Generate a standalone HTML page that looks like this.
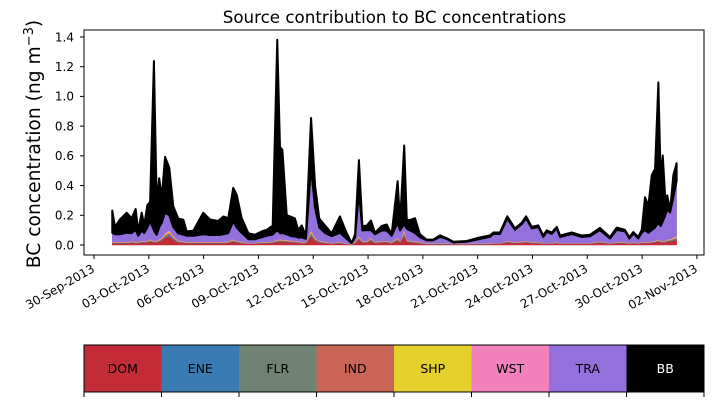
<!DOCTYPE html>
<html><head><meta charset="utf-8"><style>
body{margin:0;background:#fff;}
svg{display:block;font-family:"DejaVu Sans","Liberation Sans",sans-serif;}
</style></head><body>
<svg id="chart" width="714" height="402" viewBox="0 0 714 402">
<text x="394.5" y="23" text-anchor="middle" font-size="16.7">Source contribution to BC concentrations</text>
<text transform="translate(40,144) rotate(-90)" text-anchor="middle" font-size="18.7">BC concentration (ng m<tspan baseline-shift="super" font-size="13">−3</tspan>)</text>
<g id="areas"></g>
<g id="yaxis"></g>
<g id="xaxis"></g>
<rect x="84" y="30" width="620" height="225" fill="none" stroke="#000" stroke-width="1"/>
<g id="legend"></g>
</svg>
<script>
// time in days since 30-Sep-2013 00:00
const times=[1.00,1.15,1.42,1.79,2.06,2.28,2.42,2.61,2.75,2.92,3.07,3.28,3.43,3.57,3.71,3.89,4.12,4.34,4.61,4.89,5.07,5.44,5.98,6.35,6.80,7.08,7.35,7.62,7.81,8.08,8.45,8.81,9.18,9.45,9.78,10.03,10.18,10.31,10.55,10.82,11.00,11.18,11.37,11.60,11.88,12.10,12.33,12.64,13.01,13.46,13.83,14.10,14.29,14.50,14.69,14.93,15.16,15.38,15.75,16.02,16.29,16.62,16.75,16.98,17.12,17.30,17.57,17.84,18.21,18.57,18.94,19.30,19.67,20.40,20.95,21.67,21.86,22.22,22.62,23.04,23.41,23.65,23.96,24.32,24.59,24.78,25.05,25.33,25.51,26.15,26.69,27.15,27.69,28.24,28.61,29.06,29.30,29.52,29.79,29.98,30.16,30.34,30.53,30.71,30.89,31.02,31.13,31.26,31.38,31.53,31.71,31.89];
const dom=[.012,.012,.012,.012,.015,.012,.012,.018,.015,.018,.024,.018,.018,.024,.03,.048,.06,.036,.018,.015,.012,.012,.012,.012,.012,.012,.015,.024,.018,.012,.009,.009,.012,.012,.015,.021,.024,.021,.021,.018,.018,.015,.012,.012,.06,.03,.018,.012,.009,.012,.006,.003,.012,.036,.018,.015,.03,.012,.018,.018,.012,.03,.018,.06,.024,.018,.015,.012,.006,.006,.007,.006,.005,.005,.006,.007,.009,.009,.018,.012,.015,.018,.012,.012,.009,.009,.009,.012,.009,.009,.009,.009,.015,.009,.012,.012,.009,.012,.009,.012,.012,.012,.015,.018,.024,.018,.018,.018,.024,.024,.03,.036];
const ene=[.002,.002,.002,.002,.002,.002,.002,.002,.002,.002,.003,.002,.002,.003,.004,.006,.008,.005,.002,.002,.002,.002,.002,.002,.002,.002,.002,.003,.002,.002,.001,.001,.002,.002,.002,.003,.003,.003,.003,.002,.002,.002,.002,.002,.008,.004,.002,.002,.001,.002,.001,.001,.002,.005,.002,.002,.004,.002,.002,.002,.002,.004,.002,.008,.003,.002,.002,.002,.001,.001,.001,.001,.001,.001,.001,.001,.001,.001,.002,.002,.002,.002,.002,.002,.001,.001,.001,.002,.001,.001,.001,.001,.002,.001,.002,.002,.001,.002,.001,.002,.002,.002,.002,.002,.003,.002,.002,.002,.003,.003,.004,.005];
const flr=[.002,.002,.002,.002,.002,.002,.002,.002,.002,.002,.003,.002,.002,.003,.004,.006,.008,.005,.002,.002,.002,.002,.002,.002,.002,.002,.002,.003,.002,.002,.001,.001,.002,.002,.002,.003,.003,.003,.003,.002,.002,.002,.002,.002,.008,.004,.002,.002,.001,.002,.001,.001,.002,.005,.002,.002,.004,.002,.002,.002,.002,.004,.002,.008,.003,.002,.002,.002,.001,.001,.001,.001,.001,.001,.001,.001,.001,.001,.002,.002,.002,.002,.002,.002,.001,.001,.001,.002,.001,.001,.001,.001,.002,.001,.002,.002,.001,.002,.001,.002,.002,.002,.002,.002,.003,.002,.002,.002,.003,.003,.004,.005];
const ind=[.002,.002,.002,.002,.002,.002,.002,.002,.002,.002,.003,.002,.002,.003,.004,.006,.008,.005,.002,.002,.002,.002,.002,.002,.002,.002,.002,.003,.002,.002,.001,.001,.002,.002,.002,.003,.003,.003,.003,.002,.002,.002,.002,.002,.008,.004,.002,.002,.001,.002,.001,.001,.002,.005,.002,.002,.004,.002,.002,.002,.002,.004,.002,.008,.003,.002,.002,.002,.001,.001,.001,.001,.001,.001,.001,.001,.001,.001,.002,.002,.002,.002,.002,.002,.001,.001,.001,.002,.001,.001,.001,.001,.002,.001,.002,.002,.001,.002,.001,.002,.002,.002,.002,.002,.003,.002,.002,.002,.003,.003,.004,.005];
const shp=[.002,.002,.002,.002,.002,.002,.002,.002,.002,.002,.003,.002,.002,.003,.004,.006,.008,.005,.002,.002,.002,.002,.002,.002,.002,.002,.002,.003,.002,.002,.001,.001,.002,.002,.002,.003,.003,.003,.003,.002,.002,.002,.002,.002,.008,.004,.002,.002,.001,.002,.001,.001,.002,.005,.002,.002,.004,.002,.002,.002,.002,.004,.002,.008,.003,.002,.002,.002,.001,.001,.001,.001,.001,.001,.001,.001,.001,.001,.002,.002,.002,.002,.002,.002,.001,.001,.001,.002,.001,.001,.001,.001,.002,.001,.002,.002,.001,.002,.001,.002,.002,.002,.002,.002,.003,.002,.002,.002,.003,.003,.004,.005];
const wst=[.002,.002,.002,.002,.002,.002,.002,.002,.002,.002,.003,.002,.002,.003,.004,.006,.008,.005,.002,.002,.002,.002,.002,.002,.002,.002,.002,.003,.002,.002,.001,.001,.002,.002,.002,.003,.003,.003,.003,.002,.002,.002,.002,.002,.008,.004,.002,.002,.001,.002,.001,.001,.002,.005,.002,.002,.004,.002,.002,.002,.002,.004,.002,.008,.003,.002,.002,.002,.001,.001,.001,.001,.001,.001,.001,.001,.001,.001,.002,.002,.002,.002,.002,.002,.001,.001,.001,.002,.001,.001,.001,.001,.002,.001,.002,.002,.001,.002,.001,.002,.002,.002,.002,.002,.003,.002,.002,.002,.003,.003,.004,.005];
const tra=[.06,.05,.05,.06,.055,.08,.04,.07,.055,.09,.12,.07,.04,.08,.10,.14,.10,.06,.05,.045,.04,.04,.05,.045,.045,.05,.055,.12,.09,.06,.025,.025,.03,.04,.045,.065,.04,.045,.035,.03,.03,.025,.03,.02,.42,.20,.09,.06,.045,.06,.03,.005,.03,.30,.07,.075,.05,.05,.07,.07,.04,.10,.07,.04,.07,.07,.055,.03,.02,.02,.043,.03,.007,.012,.025,.043,.06,.06,.15,.08,.115,.15,.09,.10,.04,.075,.06,.09,.04,.06,.04,.045,.075,.03,.08,.07,.03,.055,.03,.06,.08,.06,.075,.09,.11,.10,.13,.17,.20,.18,.27,.37];
const bb=[.15,.05,.10,.135,.10,.14,.03,.12,.055,.15,.13,1.14,.22,.33,.17,.375,.32,.14,.10,.10,.03,.035,.145,.105,.095,.12,.10,.225,.22,.10,.04,.03,.04,.04,.06,1.28,.58,.56,.13,.13,.12,.05,.08,.02,.335,.15,.06,.05,.02,.11,.04,0,.02,.21,.03,.03,.065,.01,.03,.04,.01,.28,.05,.53,.06,.07,.10,.02,.005,.005,.01,.005,.005,.005,.01,.01,.01,.01,.015,.01,.01,.015,.01,.01,.01,.01,.01,.01,.01,.01,.01,.01,.015,.01,.015,.01,.01,.01,.01,.02,.22,.18,.37,.395,.945,.30,.445,.13,.095,.01,.15,.12];
const seriesNames=["DOM","ENE","FLR","IND","SHP","WST","TRA","BB"];
const seriesColors=["#c42b38","#3a7bb3","#6f8273","#c96556","#e5d12e","#f381bd","#9370db","#000000"];
const yTicks=[0.0,0.2,0.4,0.6,0.8,1.0,1.2,1.4];
const xTickDays=[0,3,6,9,12,15,18,21,24,27,30,33];
const xTickLabels=["30-Sep-2013","03-Oct-2013","06-Oct-2013","09-Oct-2013","12-Oct-2013","15-Oct-2013","18-Oct-2013","21-Oct-2013","24-Oct-2013","27-Oct-2013","30-Oct-2013","02-Nov-2013"];

const NS="http://www.w3.org/2000/svg";
const X=d=>94+d*18.27;
const Y=v=>245-v*148.6;
const series=[dom,ene,flr,ind,shp,wst,tra,bb];
const areas=document.getElementById('areas');
let base=times.map(()=>0);
series.forEach((s,k)=>{
  const top=base.map((b,i)=>b+s[i]);
  let d="M"+times.map((t,i)=>X(t).toFixed(2)+","+Y(top[i]).toFixed(2)).join("L");
  for(let i=times.length-1;i>=0;i--) d+="L"+X(times[i]).toFixed(2)+","+Y(base[i]).toFixed(2);
  d+="Z";
  const p=document.createElementNS(NS,'path');
  p.setAttribute('d',d);p.setAttribute('fill',seriesColors[k]);
  p.setAttribute('stroke',seriesColors[k]);p.setAttribute('stroke-width',k==7?'2':'0.5');
  p.setAttribute('stroke-linejoin','round');
  
  
  areas.appendChild(p);
  base=top;
});
const ya=document.getElementById('yaxis');
yTicks.forEach(v=>{
  const l=document.createElementNS(NS,'line');
  l.setAttribute('x1',80);l.setAttribute('x2',84);l.setAttribute('y1',Y(v));l.setAttribute('y2',Y(v));l.setAttribute('stroke','#000');
  
  
  ya.appendChild(l);
  const t=document.createElementNS(NS,'text');
  t.setAttribute('x',74);t.setAttribute('y',Y(v)+4.3);t.setAttribute('text-anchor','end');t.setAttribute('font-size','12');
  t.textContent=v.toFixed(1);
  
  
  ya.appendChild(t);
});
const xa=document.getElementById('xaxis');
xTickDays.forEach((d,i)=>{
  const l=document.createElementNS(NS,'line');
  l.setAttribute('x1',X(d));l.setAttribute('x2',X(d));l.setAttribute('y1',255);l.setAttribute('y2',259);l.setAttribute('stroke','#000');
  
  
  xa.appendChild(l);
  const t=document.createElementNS(NS,'text');
  t.setAttribute('transform','translate('+(X(d)+1.5)+',271) rotate(-30)');
  t.setAttribute('text-anchor','end');t.setAttribute('font-size','12');
  t.textContent=xTickLabels[i];
  
  
  xa.appendChild(t);
});
const lg=document.getElementById('legend');
const w=620/8;
seriesNames.forEach((n,i)=>{
  const r=document.createElementNS(NS,'rect');
  r.setAttribute('x',84+i*w);r.setAttribute('y',345);r.setAttribute('width',w+0.5);r.setAttribute('height',47);r.setAttribute('fill',seriesColors[i]);
  
  
  lg.appendChild(r);
  const t=document.createElementNS(NS,'text');
  t.setAttribute('x',84+i*w+w/2);t.setAttribute('y',373);t.setAttribute('text-anchor','middle');t.setAttribute('font-size','12.5');
  t.setAttribute('fill',n==="BB"?"#fff":"#000");
  t.textContent=n;
  
  
  lg.appendChild(t);
});
for(let i=0;i<=8;i++){
  const l=document.createElementNS(NS,'line');
  l.setAttribute('x1',84+i*w);l.setAttribute('x2',84+i*w);l.setAttribute('y1',392);l.setAttribute('y2',397);l.setAttribute('stroke','#000');
  
  
  lg.appendChild(l);
}
const fr=document.createElementNS(NS,'rect');
fr.setAttribute('x',84);fr.setAttribute('y',345);fr.setAttribute('width',620);fr.setAttribute('height',47);fr.setAttribute('fill','none');fr.setAttribute('stroke','#000');


lg.appendChild(fr);
</script>
</body></html>
